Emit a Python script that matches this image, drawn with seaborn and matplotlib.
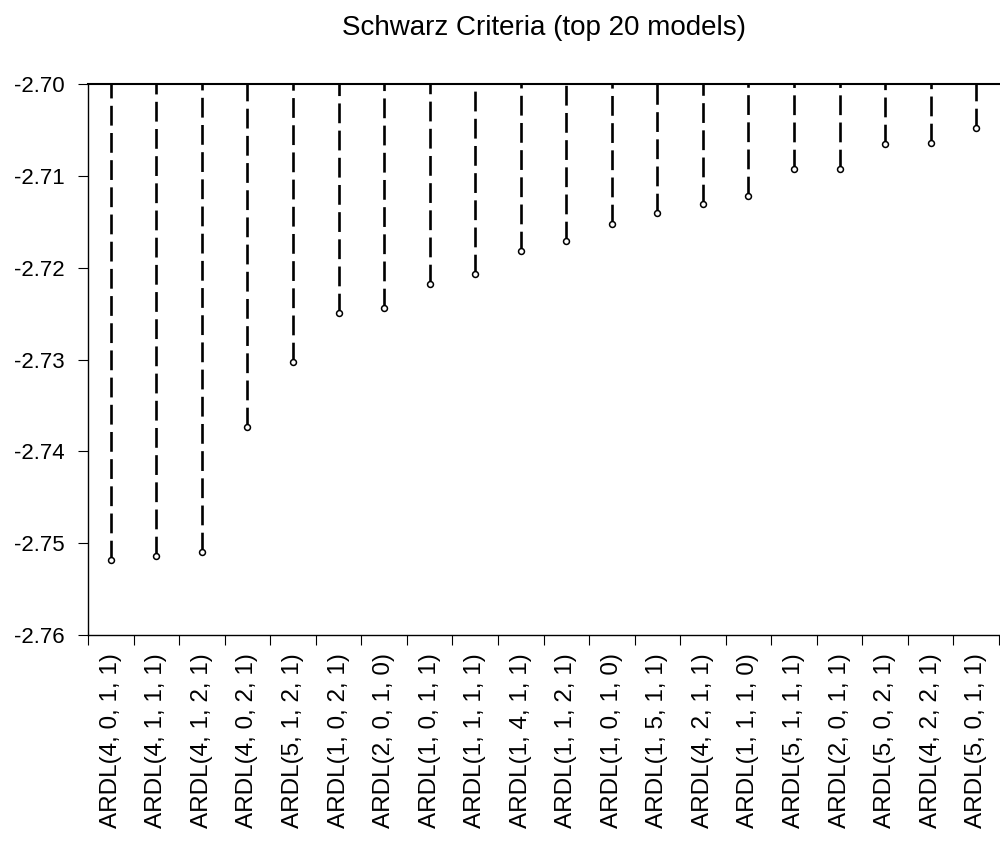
import matplotlib
matplotlib.use("Agg")
import matplotlib.pyplot as plt
import seaborn as sns
import pandas as pd
from matplotlib.ticker import FixedLocator

models = ["ARDL(4, 0, 1, 1)", "ARDL(4, 1, 1, 1)", "ARDL(4, 1, 2, 1)", "ARDL(4, 0, 2, 1)",
          "ARDL(5, 1, 2, 1)", "ARDL(1, 0, 2, 1)", "ARDL(2, 0, 1, 0)", "ARDL(1, 0, 1, 1)",
          "ARDL(1, 1, 1, 1)", "ARDL(1, 4, 1, 1)", "ARDL(1, 1, 2, 1)", "ARDL(1, 0, 1, 0)",
          "ARDL(1, 5, 1, 1)", "ARDL(4, 2, 1, 1)", "ARDL(1, 1, 1, 0)", "ARDL(5, 1, 1, 1)",
          "ARDL(2, 0, 1, 1)", "ARDL(5, 0, 2, 1)", "ARDL(4, 2, 2, 1)", "ARDL(5, 0, 1, 1)"]
schwarz = [-2.7518, -2.7514, -2.7510, -2.7373, -2.7303, -2.7249, -2.7244, -2.7218,
           -2.7207, -2.7182, -2.7171, -2.7152, -2.7141, -2.7131, -2.7122, -2.7093,
           -2.7093, -2.7065, -2.7064, -2.7048]
yticks = [-2.76, -2.75, -2.74, -2.73, -2.72, -2.71, -2.70]

df = pd.DataFrame({"model": models, "sc": schwarz})

sns.set_style("white")
plt.rcParams["font.family"] = ["Liberation Sans", "DejaVu Sans"]
plt.rcParams["text.color"] = "black"
plt.rcParams["xtick.color"] = "black"
plt.rcParams["ytick.color"] = "black"

fig = plt.figure(figsize=(10, 8.51), dpi=100)
ax = fig.add_axes([0.088, 0.2538, 0.911, 0.6475])

# dashed drops from the top of the frame down to each model's value
ax.vlines(df["model"], df["sc"], -2.70, colors="black", linewidth=1.9,
          linestyles=(0, (7.5, 2.8)))
sns.scatterplot(data=df, x="model", y="sc", ax=ax, marker="o", s=18,
                facecolor="white", edgecolor="black", linewidth=1.1, zorder=3)

ax.set_xlim(-0.5, len(models) - 0.5)
ax.set_ylim(-2.76, -2.70)
ax.set_yticks(yticks)
ax.set_yticklabels([f"{v:.2f}" for v in yticks])
ax.set_xlabel("")
ax.set_ylabel("")

ax.xaxis.set_minor_locator(FixedLocator([i - 0.5 for i in range(len(models) + 1)]))
ax.tick_params(axis="x", which="major", length=0, pad=13, labelsize=17.5, rotation=90)
ax.tick_params(axis="x", which="minor", length=7, width=0.8, direction="out", bottom=True)
ax.tick_params(axis="y", which="major", length=7, width=0.8, direction="out", left=True,
               pad=10, labelsize=16)

for side in ["left", "bottom"]:
    ax.spines[side].set_linewidth(1.0)
    ax.spines[side].set_color("black")
ax.spines["top"].set_linewidth(1.5)
ax.spines["top"].set_color("black")
ax.spines["right"].set_visible(False)

fig.text(0.544, 1 - 35 / 851, "Schwarz Criteria (top 20 models)", ha="center",
         va="baseline", fontsize=20)

fig.savefig("out.png", dpi=100)
